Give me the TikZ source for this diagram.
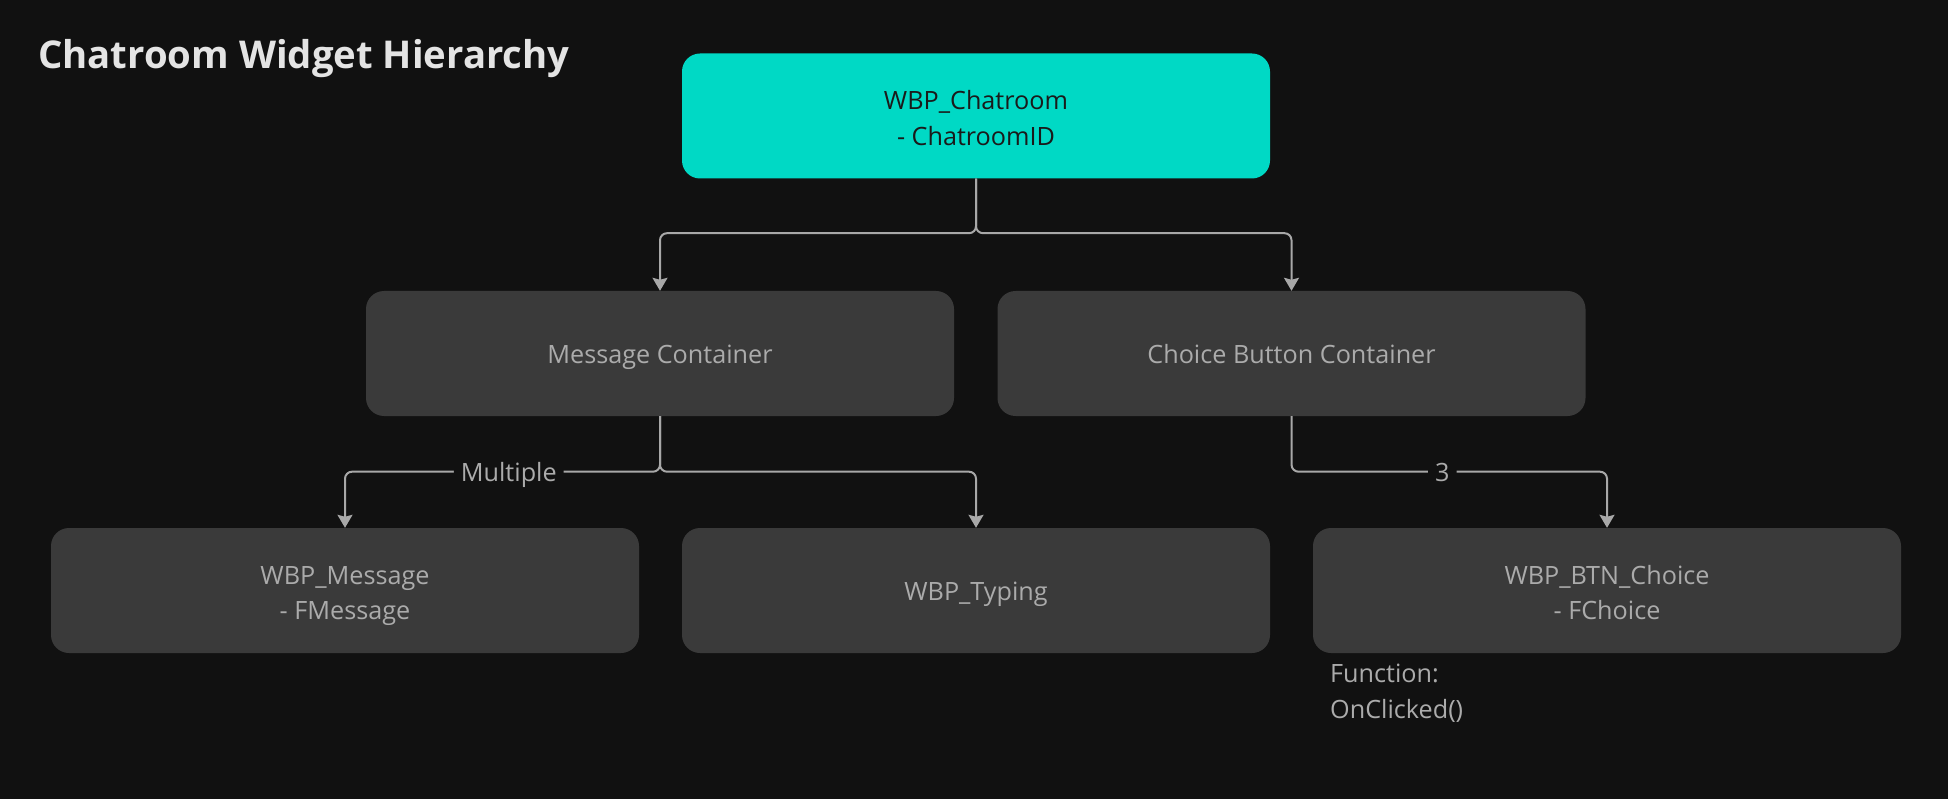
\documentclass[tikz,border=0pt]{standalone}
\usepackage{fontspec}
\setmainfont{Open Sans}
\usetikzlibrary{arrows.meta}

\newlength{\du}
\setlength{\du}{1pt}

\definecolor{bgcolor}{HTML}{111111}
\definecolor{rootcolor}{HTML}{00D9C5}
\definecolor{boxcolor}{HTML}{3A3A3A}
\definecolor{linecolor}{HTML}{A8A8A8}
\definecolor{textcolor}{HTML}{ABABAB}
\definecolor{roottextcolor}{HTML}{1A1A1A}
\definecolor{titlecolor}{HTML}{E4E4E4}

\tikzset{
  widget/.style={rounded corners=18pt, minimum width=588pt, minimum height=125pt,
    inner sep=0pt, align=center, font=\fontsize{25.2}{35.5}\selectfont,
    text height=20.5pt, text depth=0pt},
  twolines/.style={text height=58.5pt},
  rootwidget/.style={widget, fill=rootcolor, text=roottextcolor},
  childwidget/.style={widget, fill=boxcolor, text=textcolor},
  link/.style={draw=linecolor, line width=2pt, rounded corners=7pt,
    -{Stealth[length=13pt,width=15pt,inset=2pt]}},
  linklabel/.style={fill=bgcolor, text=textcolor, inner xsep=7pt, inner ysep=2pt,
    font=\fontsize{25.2}{30}\selectfont, text height=19pt, text depth=0pt},
}

\begin{document}
\begin{tikzpicture}
\pgftransformxscale{1.000000}
\pgftransformyscale{-1.000000}
% background
\fill[bgcolor] (0\du,0\du) rectangle (1948\du,799\du);
\useasboundingbox (0\du,0\du) rectangle (1948\du,799\du);
% title
\node[anchor=base west, inner sep=0pt, text=titlecolor, font=\fontsize{38.3}{45}\selectfont\bfseries]
  (title) at (38\du,68.5\du) {Chatroom Widget Hierarchy};
% widgets
\node[rootwidget, twolines] (chatroom) at (976\du,116\du) {WBP\_Chatroom\\- ChatroomID};
\node[childwidget] (msgcontainer) at (660\du,353.5\du) {Message Container};
\node[childwidget] (choicecontainer) at (1291.5\du,353.5\du) {Choice Button Container};
\node[childwidget, twolines] (message) at (345\du,590.5\du) {WBP\_Message\\- FMessage};
\node[childwidget] (typing) at (976\du,590.5\du) {WBP\_Typing};
\node[childwidget, twolines] (btnchoice) at (1607\du,590.5\du) {WBP\_BTN\_Choice\\- FChoice};
% note
\node[anchor=north west, inner sep=0pt, align=left, text=textcolor,
  font=\fontsize{25.2}{35.5}\selectfont] (note) at (1330\du,664\du) {Function:\\OnClicked()};
% links
\draw[link] (chatroom.south) -- ++(0pt,54.5pt) -| (msgcontainer.north);
\draw[link] (chatroom.south) -- ++(0pt,54.5pt) -| (choicecontainer.north);
\draw[link] (msgcontainer.south) -- ++(0pt,55.5pt) -| node[linklabel, pos=0.24] {Multiple} (message.north);
\draw[link] (msgcontainer.south) -- ++(0pt,55.5pt) -| (typing.north);
\draw[link] (choicecontainer.south) -- ++(0pt,55.5pt) -| node[linklabel, pos=0.239] {3} (btnchoice.north);
\end{tikzpicture}
\end{document}
